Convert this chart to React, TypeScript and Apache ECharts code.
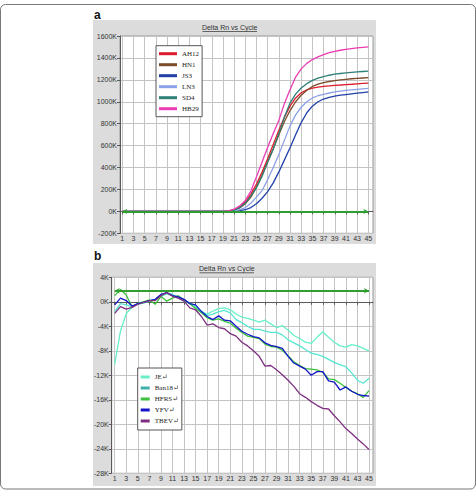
import React, { useEffect, useRef } from 'react';
import * as echarts from 'echarts';

// ---------- shared categories ----------
const cycles = ['1','2','3','4','5','6','7','8','9','10','11','12','13','14','15','16','17','18','19','20','21','22','23','24','25','26','27','28','29','30','31','32','33','34','35','36','37','38','39','40','41','42','43','44','45'];

// ---------- panel a (values in K) ----------
const namesA = ['AH12', 'HN1', 'JS3', 'LN3', 'SD4', 'HB29'];
const AH12 = [0,0,0,0,0,0,0,0,0,0,0,0,0,0,0,0,0,0,0, 4,15,40,85,155,250,360,480,610,740,860,960,1035,1082,1108,1124,1133,1140,1145,1150,1153,1157,1160,1164,1167,1170];
const HN1 = [-6,-3,0,0,0,0,0,0,0,0,0,0,0,0,0,0,0,0,0, 3,12,32,70,130,225,330,450,570,700,820,920,1000,1060,1105,1140,1160,1175,1185,1193,1200,1205,1210,1214,1217,1220];
const JS3 = [0,0,0,0,0,0,0,0,0,0,0,0,0,0,0,0,0,0,0, 0,2,6,15,35,70,120,180,260,360,470,580,700,810,900,960,1000,1025,1040,1052,1060,1066,1072,1078,1084,1090];
const LN3 = [0,0,0,0,0,0,0,0,0,0,0,0,0,0,0,0,0,0,0, 1,5,15,35,75,130,190,290,400,520,650,780,880,950,1000,1035,1055,1068,1080,1090,1097,1103,1108,1113,1118,1122];
const SD4 = [0,0,0,0,0,0,0,0,0,0,0,0,0,0,0,0,0,0,0, 3,12,35,75,140,215,320,450,570,710,860,990,1070,1125,1165,1195,1215,1230,1242,1252,1258,1263,1268,1272,1276,1280];
const HB29 = [0,0,0,0,0,0,0,0,0,0,0,0,0,0,0,0,0,0,0, 5,20,50,100,185,315,450,585,710,830,985,1110,1225,1300,1350,1385,1410,1430,1448,1460,1470,1478,1485,1492,1497,1500];
const valuesA = [AH12, HN1, JS3, LN3, SD4, HB29];
const colorsA = ['#dc1c2c', '#7b4b2a', '#2040a8', '#8ca0e8', '#2f8077', '#ec3cb4'];
const thresholdA = 0;

// ---------- panel b (values in K) ----------
const namesB = ['JE↵', 'Ban18↵', 'HFRS↵', 'YFV↵', 'TBEV↵'];
const JE = [-10.2,-4.8,-1.9,-0.9,-0.4,-0.2,0.1,0.3,0.9,1.3,1.0,0.6,0.2,-0.3,-0.9,-1.6,-2.0,-1.5,-1.1,-1.0,-1.3,-2.0,-2.5,-2.7,-3.0,-3.3,-3.0,-3.6,-4.2,-3.9,-4.6,-5.5,-6.0,-6.6,-6.8,-5.8,-4.9,-5.8,-6.6,-7.2,-7.4,-7.0,-7.2,-7.6,-8.0];
const Ban18 = [-1.6,-0.3,-0.5,-0.8,-0.3,0.0,0.2,0.4,1.1,1.4,1.2,0.7,0.3,-0.2,-0.8,-1.5,-2.2,-2.0,-1.6,-1.4,-1.8,-2.9,-3.4,-4.0,-4.5,-4.5,-4.8,-5.0,-5.0,-5.4,-6.2,-6.7,-7.2,-7.8,-8.4,-8.6,-8.9,-9.4,-9.9,-10.3,-10.6,-11.6,-12.8,-13.3,-12.5];
const HFRS = [1.0,2.0,1.1,-0.8,-0.3,0.0,0.3,-0.4,0.9,0.1,0.6,1.0,0.3,-0.3,-1.1,-1.8,-2.6,-3.0,-2.8,-3.2,-3.5,-4.3,-5.0,-5.6,-5.8,-6.0,-6.9,-7.3,-7.4,-7.9,-8.8,-9.8,-10.4,-10.9,-11.0,-11.1,-11.5,-12.6,-12.7,-13.3,-14.0,-14.6,-15.0,-15.6,-14.5];
const YFV = [-0.5,0.6,0.2,-0.7,-0.3,-0.1,0.2,0.4,1.2,1.5,1.0,0.8,0.4,-0.3,-0.5,-1.6,-2.4,-2.9,-2.3,-3.0,-3.1,-4.0,-4.8,-5.3,-5.7,-5.9,-6.7,-7.1,-7.3,-7.6,-8.9,-10.0,-10.5,-11.0,-12.0,-11.4,-11.4,-12.9,-13.1,-14.4,-13.9,-14.6,-15.1,-15.3,-15.4];
const TBEV = [-1.9,-0.8,-1.2,-0.9,-0.4,-0.1,0.2,0.2,1.0,1.5,0.9,0.6,0.1,-1.0,-1.3,-2.4,-3.8,-3.6,-4.2,-4.4,-5.2,-5.6,-6.6,-7.2,-8.0,-8.9,-10.5,-10.4,-11.1,-11.9,-12.8,-13.8,-15.0,-15.6,-16.3,-16.9,-17.4,-17.5,-18.6,-19.6,-20.7,-21.5,-22.4,-23.2,-24.1];
const valuesB = [JE, Ban18, HFRS, YFV, TBEV];
const colorsB = ['#66efc8', '#55e6d2', '#3cc23c', '#1414c8', '#7e3080'];
const legendColorsB = ['#66efc8', '#3fb0a8', '#3cc23c', '#1414c8', '#7e3080'];
const thresholdB = 1.8;

const SANS = 'Liberation Sans, Arial, sans-serif';
const SERIF = 'Liberation Serif, DejaVu Serif, serif';
const GRID_LINE = '#c4c4c4';
const AXIS_LINE = '#5a5a5a';
const TITLE = 'Delta Rn vs Cycle';

function labelAxis(gridIndex: number) {
  return {
    gridIndex,
    type: 'category',
    data: cycles,
    boundaryGap: false,
    axisLine: { show: false },
    axisTick: { show: true, interval: 1, length: 3, lineStyle: { color: AXIS_LINE } },
    axisLabel: { interval: 1, fontSize: 7, margin: 2, color: '#333', fontFamily: SANS },
    splitLine: { show: true, interval: 1, lineStyle: { color: GRID_LINE, width: 1 } },
  };
}

function frameXAxis(gridIndex: number) {
  return {
    gridIndex,
    type: 'value',
    min: 0,
    max: 1,
    axisLine: { show: true, lineStyle: { color: AXIS_LINE, width: 1 } },
    axisTick: { show: false },
    axisLabel: { show: false },
    splitLine: { show: false },
  };
}

function valueYAxis(gridIndex: number, min: number, max: number, interval: number) {
  return {
    gridIndex,
    type: 'value',
    min,
    max,
    interval,
    axisLine: { show: true, lineStyle: { color: AXIS_LINE, width: 1 } },
    axisTick: { show: true, length: 3, lineStyle: { color: AXIS_LINE } },
    axisLabel: {
      formatter: (v: number) => String(v) + 'K',
      fontSize: 7,
      margin: 3,
      color: '#333',
      fontFamily: SANS,
    },
    splitLine: { show: true, lineStyle: { color: GRID_LINE, width: 1 } },
  };
}

function hiddenYAxis(gridIndex: number, min: number, max: number) {
  return { gridIndex, type: 'value', min, max, show: false, splitLine: { show: false } };
}

function thresholdSeries(name: string, xi: number, yi: number, value: number) {
  return {
    name,
    type: 'line',
    xAxisIndex: xi,
    yAxisIndex: yi,
    data: [],
    silent: true,
    markLine: {
      silent: true,
      symbol: ['arrow', 'arrow'],
      symbolSize: [4, 5],
      label: { show: false },
      lineStyle: { color: '#2e9e2e', width: 2, type: 'solid' },
      data: [{ yAxis: value }],
    },
  };
}

function legendBox(names: string[], left: number, top: number, itemWidth: number, padding: number[], colors?: string[]) {
  return {
    orient: 'vertical',
    left,
    top,
    data: names.map((n, i) => (colors ? { name: n, itemStyle: { color: colors[i] } } : { name: n })),
    icon: 'rect',
    itemWidth,
    itemHeight: 3,
    itemGap: 3,
    padding,
    backgroundColor: '#fff',
    borderColor: '#555',
    borderWidth: 1,
    selectedMode: false,
    textStyle: { fontSize: 7, lineHeight: 8, fontFamily: SERIF, color: '#222' },
  };
}

export default function App() {
  const ref = useRef<HTMLDivElement>(null);

  useEffect(() => {
    if (!ref.current) return;
    const chart = echarts.init(ref.current, undefined, { renderer: 'svg' });

    const seriesA = namesA.map((n, i) => ({
      name: n,
      type: 'line',
      xAxisIndex: 1,
      yAxisIndex: 1,
      data: valuesA[i],
      symbol: 'none',
      color: colorsA[i],
      lineStyle: { width: 1.3, color: colorsA[i] },
    }));
    const seriesB = namesB.map((n, i) => ({
      name: n,
      type: 'line',
      xAxisIndex: 3,
      yAxisIndex: 3,
      data: valuesB[i],
      symbol: 'none',
      color: colorsB[i],
      lineStyle: { width: 1.3, color: colorsB[i] },
    }));

    const option: any = {
      animation: false,
      backgroundColor: '#fff',
      textStyle: { fontFamily: SANS },
      graphic: {
        elements: [
          { type: 'rect', z: -5, silent: true, shape: { x: 0.5, y: 4.5, width: 475, height: 484.5, r: 5 }, style: { fill: 'none', stroke: '#777', lineWidth: 1 } },
          { type: 'rect', z: -5, silent: true, shape: { x: 93, y: 20, width: 283, height: 224 }, style: { fill: '#dcdcdc' } },
          { type: 'rect', z: -5, silent: true, shape: { x: 93, y: 263, width: 283, height: 223 }, style: { fill: '#dcdcdc' } },
          { type: 'text', z: 10, x: 94, y: 15, style: { text: 'a', font: 'bold 12px ' + SANS, fill: '#111', textVerticalAlign: 'middle' } },
          { type: 'text', z: 10, x: 94, y: 256, style: { text: 'b', font: 'bold 12px ' + SANS, fill: '#111', textVerticalAlign: 'middle' } },
          { type: 'text', z: 10, x: 229.7, y: 27, style: { text: TITLE, font: '7px ' + SANS, fill: '#333', textAlign: 'center', textVerticalAlign: 'middle' } },
          { type: 'line', z: 10, shape: { x1: 202.5, y1: 31.5, x2: 257, y2: 31.5 }, style: { stroke: '#444', lineWidth: 0.8 } },
          { type: 'text', z: 10, x: 226.8, y: 268.3, style: { text: TITLE, font: '7px ' + SANS, fill: '#333', textAlign: 'center', textVerticalAlign: 'middle' } },
          { type: 'line', z: 10, shape: { x1: 199.5, y1: 272.8, x2: 254, y2: 272.8 }, style: { stroke: '#444', lineWidth: 0.8 } },
        ],
      },
      grid: [
        { left: 120, top: 36, width: 253, height: 197.3, show: true, backgroundColor: '#fff', borderColor: '#9a9a9a', borderWidth: 1 },
        { left: 122.3, top: 36, width: 246, height: 197.3, show: false },
        { left: 111.7, top: 277.3, width: 261.3, height: 196, show: true, backgroundColor: '#fff', borderColor: '#9a9a9a', borderWidth: 1 },
        { left: 114.7, top: 277.3, width: 254.3, height: 196, show: false },
      ],
      xAxis: [frameXAxis(0), labelAxis(1), frameXAxis(2), labelAxis(3)],
      yAxis: [
        valueYAxis(0, -200, 1600, 200),
        hiddenYAxis(1, -200, 1600),
        valueYAxis(2, -28, 4, 4),
        hiddenYAxis(3, -28, 4),
      ],
      legend: [
        legendBox(namesA, 156, 45.7, 18, [4, 3, 4, 3]),
        legendBox(namesB, 137.7, 368, 9, [5, 3, 5, 3], legendColorsB),
      ],
      series: [
        ...seriesA,
        thresholdSeries('thresholdA', 1, 1, thresholdA),
        ...seriesB,
        thresholdSeries('thresholdB', 3, 3, thresholdB),
      ],
    };

    chart.setOption(option);
    return () => chart.dispose();
  }, []);

  return (
    <div
      ref={ref}
      style={{ position: 'absolute', left: 0, top: 0, width: 476, height: 490, background: '#fff' }}
    />
  );
}
